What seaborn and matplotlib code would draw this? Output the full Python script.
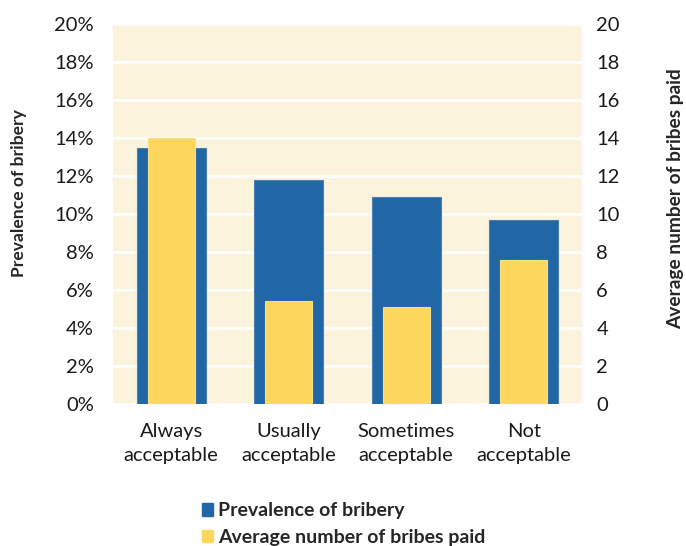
import numpy as np
import pandas as pd
import seaborn as sns
import matplotlib.pyplot as plt
from matplotlib.patches import Patch
from matplotlib.ticker import PercentFormatter

categories = ["Always\nacceptable", "Usually\nacceptable", "Sometimes\nacceptable", "Not\nacceptable"]
prevalence = [13.5, 11.8, 10.9, 9.7]
avg_bribes = [14.0, 5.4, 5.1, 7.6]

df = pd.DataFrame({"category": categories, "prevalence": prevalence, "bribes": avg_bribes})

sns.set_style("white")
plt.rcParams["font.family"] = ["Lato", "DejaVu Sans"]

blue = "#2166a5"
yellow = "#fdd65e"
bg = "#fcf3dc"

fig = plt.figure(figsize=(6.86, 5.46), dpi=100)
ax = fig.add_axes([0.164, 0.26, 0.685, 0.696])
ax.set_facecolor(bg)

sns.barplot(data=df, x="category", y="prevalence", color=blue, width=0.59,
            saturation=1, edgecolor="#4a82b8", linewidth=0.8, ax=ax, zorder=2)
ax.set_ylim(0, 20)
ax.set_yticks(np.arange(0, 21, 2))
ax.yaxis.set_major_formatter(PercentFormatter(decimals=0))
ax.grid(axis="y", color="white", linewidth=2, zorder=1)
ax.set_axisbelow(True)
ax.set_xlim(-0.5, 3.5)
ax.set_xlabel("")
ax.set_ylabel("Prevalence of bribery", fontsize=12.6, fontweight="bold")
ax.yaxis.set_label_coords(-0.182, 0.555)

ax2 = ax.twinx()
sns.barplot(data=df, x="category", y="bribes", color=yellow, width=0.40,
            saturation=1, edgecolor="#f5e08a", linewidth=0.8, ax=ax2, zorder=3)
ax2.set_ylim(0, 20)
ax2.set_yticks(np.arange(0, 21, 2))
ax2.set_xlim(-0.5, 3.5)
ax2.set_xlabel("")
ax2.set_ylabel("Average number of bribes paid", fontsize=13.8, fontweight="bold")
ax2.yaxis.set_label_coords(1.181, 0.54)

for a in (ax, ax2):
    for s in a.spines.values():
        s.set_visible(False)
    a.tick_params(length=0, labelsize=14.5, colors="#1a1a1a", pad=10)
ax.tick_params(axis="y", pad=13.5)
ax.tick_params(axis="x", pad=14)
for lbl in ax.get_xticklabels():
    lbl.set_linespacing(1.5)

handles = [Patch(color=blue), Patch(color=yellow)]
fig.legend(handles, ["Prevalence of bribery", "Average number of bribes paid"],
           loc="lower left", bbox_to_anchor=(0.294, 0.0), frameon=False,
           prop={"weight": "bold", "size": 14}, handlelength=0.6, handleheight=0.6,
           handletextpad=0.25, labelspacing=0.5, borderpad=0, borderaxespad=0)

fig.savefig("out.png", dpi=100)
